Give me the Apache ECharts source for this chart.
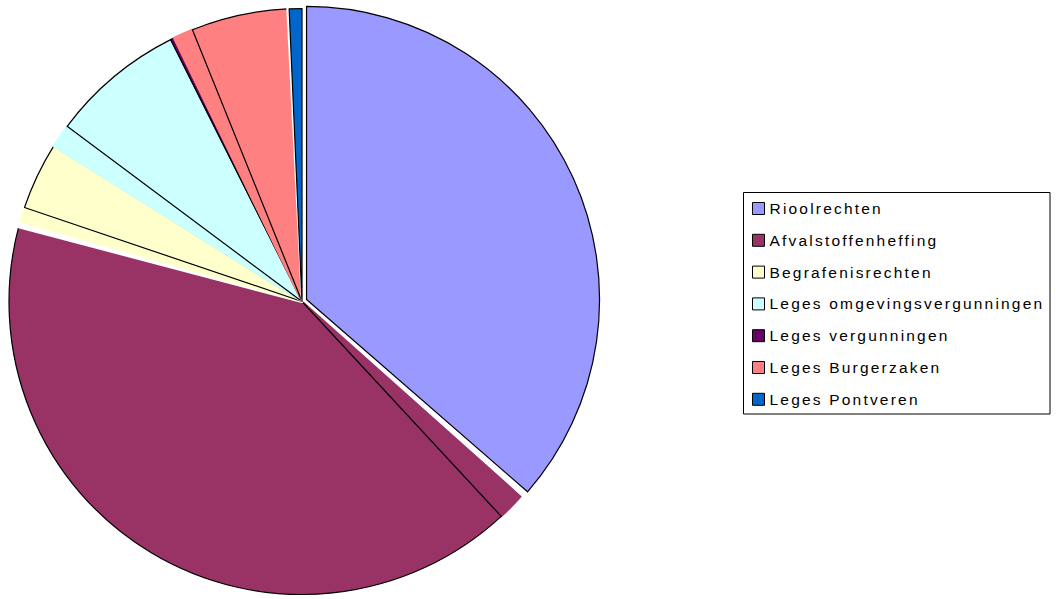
<!DOCTYPE html>
<html>
<head>
<meta charset="utf-8">
<script src="https://cdn.jsdelivr.net/npm/echarts@6/dist/echarts.min.js"></script>
<style>
  html, body { margin: 0; padding: 0; background: #ffffff; }
  #chart { width: 1056px; height: 599px; }
  #chart text { letter-spacing: 2.2px; }
</style>
</head>
<body>
<div id="chart"></div>
<script>
// Categories (legend order = clockwise slice order)
const categories = [
  'Rioolrechten',
  'Afvalstoffenheffing',
  'Begrafenisrechten',
  'Leges omgevingsvergunningen',
  'Leges vergunningen',
  'Leges Burgerzaken',
  'Leges Pontveren'
];
// Share of the pie (percent)
const mainValues = [36.4, 41.0, 3.7, 7.4, 0.2, 5.3, 0.7];
// Unoutlined leading part of each slice (percent)
const leadValues = [0, 1.5, 0.8, 1.3, 0, 1.1, 0];
// White gaps after a slice (percent)
const gapValues = [0.2, 0.3, 0, 0, 0, 0.1, 0];

const palette = ['#9999ff', '#993366', '#ffffcc', '#ccffff', '#660066', '#ff8080', '#0066cc'];

const pieData = [];
categories.forEach(function (name, i) {
  if (leadValues[i] > 0) {
    pieData.push({
      name: name,
      value: leadValues[i],
      itemStyle: { color: palette[i], borderColor: palette[i], borderWidth: 2 }
    });
  }
  const main = {
    name: name,
    value: mainValues[i],
    itemStyle: { color: palette[i], borderColor: '#000000', borderWidth: 1.2 }
  };
  if (i === 0) main.selected = true;
  pieData.push(main);
  if (gapValues[i] > 0) {
    pieData.push({
      name: '_gap' + i,
      value: gapValues[i],
      itemStyle: { color: '#ffffff', borderColor: '#ffffff', borderWidth: i === 1 ? 3 : 2 }
    });
  }
});

const chart = echarts.init(document.getElementById('chart'), null, { renderer: 'svg' });
chart.setOption({
  animation: false,
  backgroundColor: '#ffffff',
  legend: {
    data: categories,
    orient: 'vertical',
    left: 752,
    top: 200.5,
    padding: 0,
    itemWidth: 12,
    itemHeight: 12,
    itemGap: 15.8,
    icon: 'rect',
    itemStyle: { borderColor: '#000000', borderWidth: 1 },
    selectedMode: false,
    textStyle: {
      fontFamily: 'Liberation Sans',
      fontSize: 15.5,
      lineHeight: 15,
      color: '#000000'
    }
  },
  graphic: [{
    type: 'rect',
    silent: true,
    shape: { x: 743.5, y: 192.5, width: 306.5, height: 221.5 },
    style: { fill: 'none', stroke: '#000000', lineWidth: 1 }
  }],
  series: [{
    type: 'pie',
    center: [302, 301.5],
    radius: 293,
    startAngle: 90,
    clockwise: true,
    selectedMode: 'multiple',
    selectedOffset: 5,
    silent: true,
    avoidLabelOverlap: false,
    label: { show: false },
    labelLine: { show: false },
    emphasis: { disabled: true },
    data: pieData
  }]
});
</script>
</body>
</html>
